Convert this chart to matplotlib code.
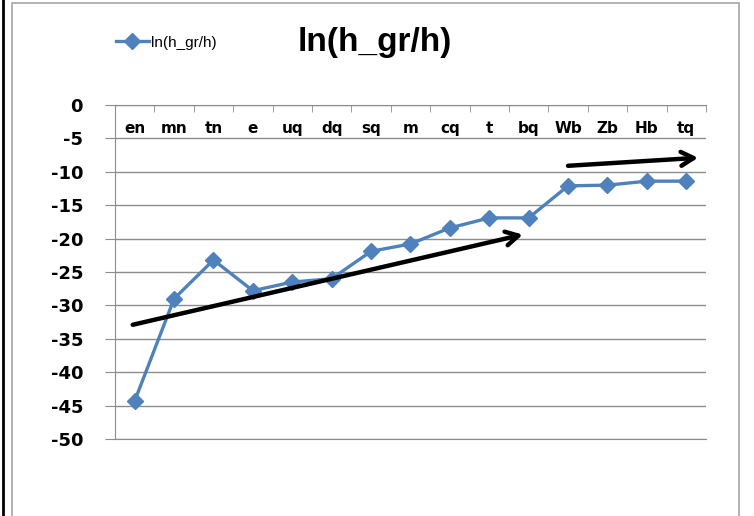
import matplotlib.pyplot as plt
from matplotlib.lines import Line2D
from matplotlib.patches import Rectangle

categories = ['en', 'mn', 'tn', 'e', 'uq', 'dq', 'sq', 'm', 'cq', 't', 'bq', 'Wb', 'Zb', 'Hb', 'tq']
values = [-44.3, -29.0, -23.2, -27.8, -26.5, -26.0, -21.9, -20.8, -18.4, -16.9, -16.9,
          -12.1, -12.0, -11.4, -11.4]
yticks = list(range(0, -55, -5))

# trend arrows drawn by hand on the chart (start, end in data units)
arrows = [((-0.05, -32.9), (9.85, -19.4)),
          ((11.0, -9.1), (14.3, -7.9))]

font = ['Liberation Sans Narrow', 'Liberation Sans', 'DejaVu Sans']

fig = plt.figure(figsize=(7.54, 5.16), dpi=100)
ax = fig.add_axes([0.1525, 0.1492, 0.7838, 0.6473])

x = list(range(len(categories)))
line, = ax.plot(x, values, color='#4F81BD', linewidth=2.4, marker='D', markersize=8,
                label='ln(h_gr/h)')

ax.set_xlim(-0.5, len(categories) - 0.5)
ax.set_ylim(-50, 0)
ax.set_yticks(yticks)
ax.set_yticklabels([str(v) for v in yticks], fontsize=13, fontweight='bold', family='DejaVu Sans')
ax.yaxis.grid(True, color='#8c8c8c', linewidth=1.0)
ax.set_axisbelow(True)

# category labels just under the axis line at 0
ax.set_xticks(x)
ax.set_xticklabels(categories, fontsize=11, fontweight='bold', family='DejaVu Sans')
ax.xaxis.tick_top()
ax.tick_params(axis='x', which='major', length=0, pad=-22)
ax.set_xticks([i - 0.5 for i in range(len(categories) + 1)], minor=True)
ax.tick_params(axis='x', which='minor', direction='in', length=5, color='#8c8c8c', top=True)
ax.tick_params(axis='y', length=7, color='#8c8c8c', pad=16)

ax.spines['right'].set_visible(False)
for side in ['left', 'top', 'bottom']:
    ax.spines[side].set_color('#8c8c8c')

for (x0, y0), (x1, y1) in arrows:
    ax.annotate('', xy=(x1, y1), xytext=(x0, y0),
                arrowprops=dict(arrowstyle='->,head_length=0.9,head_width=0.5',
                                color='black', lw=3.2, shrinkA=0, shrinkB=0),
                annotation_clip=False)

# legend, title and frame
fig.legend(handles=[line], labels=['ln(h_gr/h)'], loc='center left',
           bbox_to_anchor=(0.135, 0.917), frameon=False, handlelength=2.2,
           handletextpad=0.1, prop={'family': font, 'size': 11})
fig.text(0.497, 0.917, 'ln(h_gr/h)', ha='center', va='center', fontsize=24,
         fontweight='bold', family=font)

fig.patches.append(Rectangle((0.016, -0.1), 0.964, 1.094, transform=fig.transFigure,
                             fill=False, edgecolor='#a6a6a6', linewidth=1.2))
fig.lines.append(Line2D([0.004, 0.004], [0, 1], transform=fig.transFigure,
                        color='black', linewidth=2.0))

fig.savefig('out.png', dpi=100)
